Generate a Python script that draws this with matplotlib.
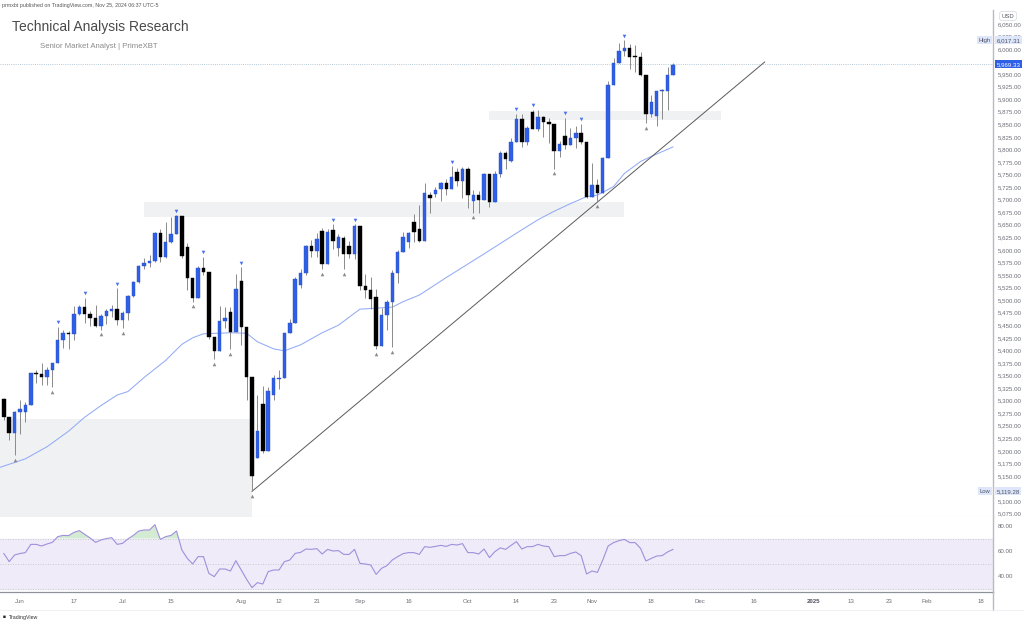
import matplotlib
matplotlib.use("Agg")
import matplotlib.pyplot as plt
import matplotlib.transforms as mtransforms
from matplotlib.patches import Rectangle
import numpy as np
import pandas as pd

W, H = 1024, 623

# ---------------- data ----------------
holidays = ['2024-06-19', '2024-07-04', '2024-09-02', '2024-11-28', '2024-12-25',
            '2025-01-01', '2025-01-20', '2025-02-17']
calendar_start = '2024-05-28'
calendar_end = '2025-02-28'
first_candle = '2024-05-29'

opens = [5303, 5267, 5235, 5278, 5278, 5291, 5354, 5353, 5347, 5361, 5375, 5421, 5434, 5432, 5473,
         5487, 5473, 5465, 5448, 5469, 5478, 5483, 5460, 5475, 5509, 5537, 5567, 5573, 5577, 5634,
         5585, 5615, 5631, 5667, 5606, 5545, 5505, 5564, 5556, 5427, 5399, 5459, 5476, 5436, 5538,
         5447, 5347, 5186, 5293, 5200, 5311, 5342, 5344, 5434, 5455, 5530, 5554, 5608, 5597, 5638,
         5571, 5640, 5603, 5624, 5607, 5592, 5648, 5529, 5521, 5507, 5408, 5471, 5496, 5554, 5596,
         5615, 5655, 5642, 5618, 5709, 5711, 5721, 5733, 5722, 5755, 5738, 5762, 5698, 5710, 5700,
         5751, 5696, 5751, 5792, 5776, 5815, 5860, 5815, 5875, 5841, 5865, 5854, 5851, 5797, 5827,
         5808, 5823, 5833, 5814, 5705, 5729, 5713, 5783, 5929, 5973, 5996, 6001, 5986, 5985, 5949,
         5871, 5867, 5916, 5917, 5949]
highs = [5306, 5267, 5280, 5302, 5298, 5354, 5361, 5375, 5366, 5375, 5447, 5441, 5439, 5488, 5490,
         5505, 5478, 5490, 5472, 5483, 5490, 5524, 5479, 5510, 5539, 5570, 5583, 5590, 5635, 5642,
         5656, 5666, 5669, 5667, 5614, 5545, 5567, 5586, 5556, 5427, 5488, 5487, 5487, 5551, 5566,
         5447, 5347, 5312, 5330, 5328, 5351, 5360, 5435, 5463, 5546, 5561, 5609, 5620, 5633, 5643,
         5642, 5651, 5631, 5627, 5617, 5651, 5648, 5551, 5546, 5522, 5484, 5501, 5560, 5600, 5636,
         5636, 5671, 5690, 5733, 5715, 5725, 5735, 5742, 5767, 5764, 5765, 5765, 5720, 5718, 5753,
         5751, 5757, 5796, 5796, 5822, 5871, 5870, 5846, 5879, 5878, 5866, 5863, 5851, 5817, 5863,
         5843, 5847, 5851, 5814, 5773, 5741, 5784, 5936, 5983, 6012, 6017, 6009, 6008, 5993, 5949,
         5909, 5917, 5920, 5964, 5973]
lows = [5262, 5222, 5191, 5234, 5257, 5291, 5335, 5331, 5331, 5327, 5375, 5404, 5403, 5420, 5471,
        5455, 5448, 5447, 5441, 5452, 5467, 5451, 5444, 5460, 5507, 5535, 5562, 5565, 5575, 5576,
        5583, 5614, 5631, 5583, 5521, 5497, 5505, 5550, 5422, 5382, 5399, 5444, 5403, 5436, 5410,
        5302, 5119, 5186, 5195, 5200, 5301, 5323, 5344, 5434, 5455, 5525, 5550, 5586, 5585, 5561,
        5571, 5602, 5587, 5561, 5584, 5582, 5520, 5504, 5482, 5403, 5408, 5441, 5407, 5535, 5596,
        5604, 5615, 5615, 5618, 5674, 5705, 5698, 5709, 5721, 5727, 5703, 5683, 5674, 5673, 5700,
        5686, 5696, 5745, 5762, 5775, 5815, 5804, 5808, 5840, 5837, 5824, 5812, 5762, 5784, 5800,
        5808, 5802, 5810, 5703, 5705, 5696, 5713, 5783, 5929, 5973, 5986, 5960, 5955, 5946, 5853,
        5865, 5846, 5860, 5878, 5949]
closes = [5267, 5235, 5278, 5283, 5291, 5354, 5353, 5347, 5361, 5375, 5421, 5434, 5432, 5473, 5487,
          5473, 5465, 5448, 5469, 5478, 5483, 5460, 5475, 5509, 5537, 5567, 5573, 5577, 5634, 5585,
          5615, 5631, 5667, 5588, 5545, 5505, 5564, 5556, 5427, 5399, 5459, 5464, 5436, 5522, 5447,
          5347, 5150, 5240, 5200, 5319, 5344, 5344, 5434, 5455, 5543, 5554, 5608, 5597, 5621, 5571,
          5635, 5617, 5626, 5592, 5592, 5648, 5529, 5520, 5503, 5408, 5471, 5496, 5554, 5596, 5626,
          5633, 5635, 5618, 5714, 5703, 5719, 5733, 5722, 5745, 5738, 5762, 5709, 5710, 5700, 5751,
          5696, 5751, 5792, 5780, 5815, 5860, 5815, 5842, 5841, 5865, 5854, 5851, 5797, 5810, 5808,
          5823, 5833, 5814, 5705, 5729, 5713, 5783, 5929, 5973, 5996, 6001, 5984, 5985, 5949, 5871,
          5894, 5917, 5917, 5949, 5969]

rsi = [58.0, 51.5, 56.8, 58.0, 58.7, 65.3, 65.3, 64.0, 65.6, 66.9, 71.5, 72.5, 72.3, 74.9, 76.3,
       73.3, 70.4, 66.9, 68.8, 69.9, 70.7, 65.3, 66.1, 69.6, 72.5, 76.0, 76.8, 76.8, 81.1, 69.3,
       71.5, 72.5, 76.0, 60.8, 54.1, 49.6, 55.5, 55.5, 42.1, 39.5, 45.6, 45.6, 44.0, 52.3, 44.8,
       37.3, 30.7, 34.7, 33.6, 43.5, 44.8, 44.8, 51.5, 52.8, 58.1, 58.9, 61.6, 61.3, 61.9, 57.6,
       61.3, 60.0, 60.3, 57.3, 57.3, 61.3, 50.1, 49.6, 48.8, 41.3, 46.1, 48.3, 52.8, 55.5, 57.9,
       58.7, 58.7, 57.3, 63.5, 62.9, 63.7, 64.5, 63.7, 65.3, 64.8, 65.9, 58.7, 58.7, 57.6, 61.6,
       54.7, 59.5, 62.5, 61.3, 64.5, 67.5, 61.6, 63.5, 63.5, 65.3, 64.0, 63.5, 55.5, 56.3, 56.3,
       58.1, 59.2, 56.3, 41.6, 44.0, 42.9, 52.8, 64.0, 66.7, 68.3, 69.3, 66.7, 66.7, 62.1, 52.0,
       54.1, 56.0, 56.3, 59.2, 61.3]

ma_dates = ['2024-05-28', '2024-06-04', '2024-06-10', '2024-06-14', '2024-06-20', '2024-06-25',
            '2024-06-28', '2024-07-02', '2024-07-08', '2024-07-12', '2024-07-17', '2024-07-19',
            '2024-07-23', '2024-07-30', '2024-08-02', '2024-08-06', '2024-08-09', '2024-08-13',
            '2024-08-16', '2024-08-22', '2024-08-27', '2024-09-03', '2024-09-06', '2024-09-11',
            '2024-09-13', '2024-09-18', '2024-09-25', '2024-10-04', '2024-10-15', '2024-10-18',
            '2024-10-23', '2024-10-28', '2024-10-31', '2024-11-04', '2024-11-07', '2024-11-11',
            '2024-11-14', '2024-11-18', '2024-11-22']
ma_values = [5166, 5184, 5208, 5239, 5267, 5290, 5311, 5318, 5346, 5380, 5412, 5425, 5433, 5435,
             5434, 5417, 5403, 5399, 5411, 5435, 5450, 5482, 5484, 5486, 5497, 5510, 5545, 5592,
             5640, 5660, 5677, 5692, 5706, 5709, 5726, 5752, 5776, 5786, 5805]

pivot_high_dates = ['2024-06-12', '2024-06-20', '2024-06-28', '2024-07-16', '2024-07-23',
                    '2024-08-01', '2024-08-26', '2024-08-30', '2024-09-26', '2024-10-14',
                    '2024-10-17', '2024-10-25', '2024-10-30', '2024-11-11']
pivot_low_dates = ['2024-05-31', '2024-06-11', '2024-06-25', '2024-07-01', '2024-07-19',
                   '2024-07-25', '2024-07-30', '2024-08-05', '2024-08-22', '2024-08-28',
                   '2024-09-06', '2024-09-11', '2024-10-02', '2024-10-23', '2024-11-04',
                   '2024-11-15']

zone_starts = ['2024-05-28', '2024-07-08', '2024-10-07']
zone_ends = ['2024-08-05', '2024-11-11', '2024-12-06']
zone_lows = [5040, 5666, 5859]
zone_highs = [5263, 5696, 5877]

trend_dates = ['2024-08-05', '2024-12-18']
trend_prices = [5119.26, 5974]

tick_dates = ['2024-06-03', '2024-06-17', '2024-07-01', '2024-07-15', '2024-08-01', '2024-08-12',
              '2024-08-21', '2024-09-03', '2024-09-16', '2024-10-01', '2024-10-14', '2024-10-23',
              '2024-11-01', '2024-11-18', '2024-12-02', '2024-12-16', '2025-01-02', '2025-01-13',
              '2025-01-23', '2025-02-03', '2025-02-18']
tick_labels = ['Jun', '17', 'Jul', '15', 'Aug', '12', '21', 'Sep', '16', 'Oct', '14', '23', 'Nov',
               '18', 'Dec', '16', '2025', '13', '23', 'Feb', '18']

price_ticks = [v for v in range(5075, 6051, 25) if v not in (5125, 5975)]
rsi_ticks = [40, 60, 80]
last_price = 5969.33
high_price = 6017.31
low_price = 5119.28

# ---------------- helpers ----------------
cal = pd.bdate_range(calendar_start, calendar_end, freq='C', holidays=holidays)


def pos(d):
    return cal.get_loc(pd.Timestamp(d))


n = len(closes)
start = pos(first_candle)
xs = np.arange(start, start + n)
o = np.array(opens, float)
h = np.array(highs, float)
l = np.array(lows, float)
c = np.array(closes, float)

PX_PER_BAR = 5.396
X0_PIX = 20.0
X0_POS = pos('2024-06-03')


def pix2pos(px):
    return (px - X0_PIX) / PX_PER_BAR + X0_POS


def fx(x):
    return x / W


def fy(y):
    return 1 - y / H


plt.rcParams['font.family'] = ['Liberation Sans', 'DejaVu Sans']

fig = plt.figure(figsize=(W / 100, H / 100), dpi=100)
fig.patch.set_facecolor('white')

ax = fig.add_axes([0, fy(517), fx(993), (517 - 10) / H])
axr = fig.add_axes([0, fy(592), fx(993), (592 - 517) / H])

xmin, xmax = pix2pos(0), pix2pos(993)
ax.set_xlim(xmin, xmax)
axr.set_xlim(xmin, xmax)
ax.set_ylim(5068.2, 6077.6)
axr.set_ylim(27.2, 87.2)

# zones
for s, e, lo, hi in zip(zone_starts, zone_ends, zone_lows, zone_highs):
    x1 = pos(s) if s != calendar_start else xmin - 1
    ax.add_patch(Rectangle((x1, lo), pos(e) - x1, hi - lo, facecolor='#f0f1f3',
                           edgecolor='none', zorder=0))

# last price line
ax.axhline(last_price, color='#9db8c8', lw=0.6, ls=(0, (1, 1.6)), zorder=1)

# moving average
ax.plot([pos(d) for d in ma_dates], ma_values, color='#93abf6', lw=0.75, zorder=2)

# trend line
ax.plot([pos(d) for d in trend_dates], trend_prices, color='#5a5a5a', lw=0.7, zorder=2)

# candles
up = c >= o
ax.vlines(xs, l, h, color='#8a8a8a', lw=0.7, zorder=3)
bottoms = np.minimum(o, c)
heights = np.maximum(np.abs(c - o), 1.6)
ax.bar(xs[up], heights[up], bottom=bottoms[up], width=0.64, color='#2f5fe6',
       edgecolor='#2a4fc4', lw=0.3, zorder=4)
ax.bar(xs[~up], heights[~up], bottom=bottoms[~up], width=0.64, color='#000000',
       edgecolor='#000000', lw=0.3, zorder=4)

# pivots
idx_of = {cal[start + i]: i for i in range(n)}
ph_i = [idx_of[pd.Timestamp(d)] for d in pivot_high_dates]
pl_i = [idx_of[pd.Timestamp(d)] for d in pivot_low_dates]
up_off = mtransforms.offset_copy(ax.transData, fig=fig, y=3.2, units='points')
dn_off = mtransforms.offset_copy(ax.transData, fig=fig, y=-3.4, units='points')
ax.plot(xs[ph_i], h[ph_i], 'v', ms=2.6, color='#4a72f0', mec='none', transform=up_off, zorder=5)
ax.plot(xs[pl_i], l[pl_i], '^', ms=2.6, color='#8a8a8a', mec='none', transform=dn_off, zorder=5)

# main axis styling
for sp in ['top', 'left']:
    ax.spines[sp].set_visible(False)
ax.spines['bottom'].set_color('#e3e5ea')
ax.spines['bottom'].set_linewidth(0.8)
ax.spines['right'].set_color('#b8bbc2')
ax.spines['right'].set_linewidth(1.0)
ax.yaxis.tick_right()
ax.set_yticks(price_ticks)
ax.set_yticklabels([f'{v:,.2f}' for v in price_ticks])
ax.tick_params(axis='y', length=0, pad=3.2, labelsize=4.4, labelcolor='#6b6e76')
ax.tick_params(axis='x', bottom=False, labelbottom=False)


# price axis badges
def badge(axis, y, text, fc, tc, prefix=None):
    axis.annotate(text, xy=(1.0, y), xycoords=('axes fraction', 'data'), xytext=(2.6, 0),
                  textcoords='offset points', ha='left', va='center', fontsize=4.4, color=tc,
                  bbox=dict(boxstyle='square,pad=0.25', fc=fc, ec='none'), zorder=10,
                  annotation_clip=False)
    if prefix:
        axis.annotate(prefix, xy=(1.0, y), xycoords=('axes fraction', 'data'), xytext=(-2.0, 0),
                      textcoords='offset points', ha='right', va='center', fontsize=4.2,
                      color='#50535e', bbox=dict(boxstyle='square,pad=0.25', fc=fc, ec='none'),
                      zorder=10, annotation_clip=False)


badge(ax, high_price, f'{high_price:,.2f}', '#dde6fb', '#50535e', 'High')
badge(ax, last_price, f'{last_price:,.2f}', '#2f5fe6', 'white')
badge(ax, low_price, f'{low_price:,.2f}', '#dde6fb', '#50535e', 'Low')

# USD box
fig.text(fx(1008), fy(16), 'USD', ha='center', va='center', fontsize=4.2, color='#50535e',
         bbox=dict(boxstyle='round,pad=0.35', fc='white', ec='#d6d8de', lw=0.5))

# ---------------- RSI pane ----------------
r = np.array(rsi, float)
axr.axhspan(30, 70, color='#efebf8', zorder=0)
for lvl in (70, 50, 30):
    axr.axhline(lvl, color='#c4c4c8', lw=0.6, ls=(0, (1.2, 1.8)), zorder=1)
axr.fill_between(xs, r, 70, where=r > 70, interpolate=True, color='#cfe8cf', alpha=0.9,
                 lw=0, zorder=1)
axr.plot(xs, r, color='#a18fdc', lw=0.8, zorder=2)
for sp in ['top', 'left']:
    axr.spines[sp].set_visible(False)
axr.spines['right'].set_color('#b8bbc2')
axr.spines['right'].set_linewidth(1.0)
axr.spines['bottom'].set_color('#8e9199')
axr.spines['bottom'].set_linewidth(0.9)
axr.yaxis.tick_right()
axr.set_yticks(rsi_ticks)
axr.set_yticklabels([f'{v:.2f}' for v in rsi_ticks])
axr.tick_params(axis='y', length=0, pad=3.2, labelsize=4.4, labelcolor='#6b6e76')
axr.tick_params(axis='x', bottom=False, labelbottom=False)

# time-axis labels (common baseline)
tl_trans = mtransforms.blended_transform_factory(axr.transData, fig.transFigure)
for d, lab in zip(tick_dates, tick_labels):
    axr.text(pos(d), fy(603.2), lab, transform=tl_trans, ha='center', va='baseline',
             fontsize=4.4, color='#50535e' if lab == '2025' else '#6b6e76',
             fontweight='bold' if lab == '2025' else 'normal', clip_on=False)

# time-axis right corner separator
fig.add_artist(plt.Line2D([fx(993), fx(993)], [fy(592), fy(610)], color='#b8bbc2', lw=1.0))
fig.add_artist(plt.Line2D([0, 1], [fy(610), fy(610)], color='#eceef2', lw=0.6))

# ---------------- texts ----------------
fig.text(fx(2), fy(5), 'prmxbt published on TradingView.com, Nov 25, 2024 06:37 UTC-5',
         fontsize=3.8, color='#555555', ha='left', va='center')
fig.text(fx(12), fy(27), 'Technical Analysis Research', fontsize=10.0, color='#4a4a4a',
         ha='left', va='center')
fig.text(fx(40), fy(46), 'Senior Market Analyst | PrimeXBT', fontsize=5.6, color='#8a8a8a',
         ha='left', va='center')
fig.text(fx(3), fy(617), '\u25a0', fontsize=3.5, color='#222222', ha='left', va='center')
fig.text(fx(9), fy(617), 'TradingView', fontsize=3.8, color='#333333', ha='left', va='center')

fig.savefig('out.png', dpi=100, facecolor='white')
